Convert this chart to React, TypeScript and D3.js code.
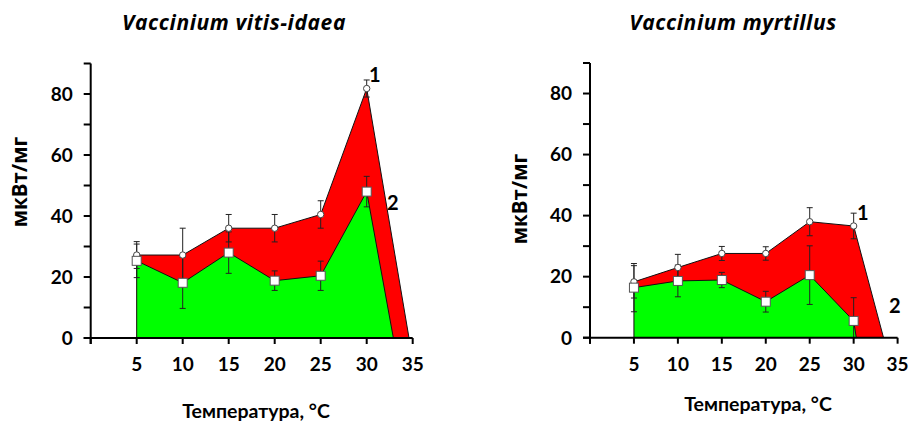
import React from "react";
import * as d3 from "d3";

// Temperatures where measurements were taken
const temps = [5, 10, 15, 20, 25, 30];

// Vaccinium vitis-idaea
const vitisTitle = "Vaccinium vitis-idaea";
const vitis1 = [27.2, 27.2, 36, 36, 40.5, 81.8];
const vitis1Err = [4.4, 8.8, 4.5, 4.5, 4.5, 2.8];
const vitis2 = [25.3, 18.1, 28, 18.8, 20.4, 48];
const vitis2Err = [5.5, 8.4, 6.8, 3.2, 4.8, 5];
const vitisZero = [34.6, 32.9]; // temperature where each series falls to zero

// Vaccinium myrtillus
const myrtTitle = "Vaccinium myrtillus";
const myrt1 = [18.3, 23, 27.6, 27.6, 38, 36.6];
const myrt1Err = [5.3, 4.3, 2.3, 2.2, 4.6, 4.2];
const myrt2 = [16.4, 18.6, 18.9, 11.8, 20.5, 5.5];
const myrt2Err = [7.9, 5.2, 2.5, 3.4, 9.6, 7.6];
const myrtZero = [33.4, 30.3];

const xTicks = [0, 5, 10, 15, 20, 25, 30, 35];
const xTickLabels = [5, 10, 15, 20, 25, 30, 35];
const yTicks = [0, 10, 20, 30, 40, 50, 60, 70, 80, 90];
const yTickLabels = [0, 20, 40, 60, 80];
const yLabel = "мкВт/мг";
const xLabel = "Температура, °C";
const seriesNames = ["1", "2"];

const FONT = "Lato, 'Open Sans', sans-serif";
const WIDE_FONT = "'Open Sans', Lato, sans-serif";

type PanelProps = {
  title: string;
  s1: number[];
  e1: number[];
  s2: number[];
  e2: number[];
  zero: number[];
  x0: number;
  x1: number;
  y0: number;
  y1: number;
  titleX: number;
  yLabelX: number;
  yLabelY: number;
  xLabelY: number;
  xLabelX: number;
  lab1: [number, number];
  lab2: [number, number];
};

function Panel(p: PanelProps) {
  const x = d3.scaleLinear().domain([0, 35]).range([p.x0, p.x1]);
  const y = d3.scaleLinear().domain([0, 90]).range([p.y0, p.y1]);

  const pts = (vals: number[], z: number) => {
    const arr: [number, number][] = temps.map((t, i) => [t, vals[i]]);
    arr.push([z, 0]);
    return arr;
  };
  const area = d3
    .area<[number, number]>()
    .x((d) => x(d[0]))
    .y0(y(0))
    .y1((d) => y(d[1]));
  const line = d3
    .line<[number, number]>()
    .x((d) => x(d[0]))
    .y((d) => y(d[1]));

  const p1 = pts(p.s1, p.zero[0]);
  const p2 = pts(p.s2, p.zero[1]);

  const errBars = (vals: number[], errs: number[], key: string) =>
    temps.map((t, i) => {
      const cx = x(t);
      const hi = y(vals[i] + errs[i]);
      const lo = y(Math.max(0, vals[i] - errs[i]));
      return (
        <g key={key + i} stroke="#222" strokeWidth={1}>
          <line x1={cx} x2={cx} y1={hi} y2={lo} />
          <line x1={cx - 3} x2={cx + 3} y1={hi} y2={hi} />
          <line x1={cx - 3} x2={cx + 3} y1={lo} y2={lo} />
        </g>
      );
    });

  return (
    <g>
      <text
        x={p.titleX}
        y={30}
        textAnchor="middle"
        fontFamily={WIDE_FONT}
        fontWeight="bold"
        fontStyle="italic"
        fontSize={21}
        letterSpacing={0.6}
      >
        {p.title}
      </text>

      <path d={area(p1) ?? ""} fill="#ff0000" />
      <path d={area(p2) ?? ""} fill="#00ff00" />
      <path d={line(p1) ?? ""} fill="none" stroke="#111" strokeWidth={1} />
      <path d={line(p2) ?? ""} fill="none" stroke="#111" strokeWidth={1} />
      <line x1={x(5)} x2={x(5)} y1={y(0)} y2={y(p.s2[0])} stroke="#111" strokeWidth={1} />

      {errBars(p.s1, p.e1, "a")}
      {errBars(p.s2, p.e2, "b")}

      {temps.map((t, i) => (
        <circle
          key={"m1" + i}
          cx={x(t)}
          cy={y(p.s1[i])}
          r={3.2}
          fill="#fff"
          stroke="#444"
          strokeWidth={1}
        />
      ))}
      {temps.map((t, i) => (
        <rect
          key={"m2" + i}
          x={x(t) - 4.5}
          y={y(p.s2[i]) - 4.5}
          width={9}
          height={9}
          fill="#fff"
          stroke="#555"
          strokeWidth={1}
        />
      ))}

      {/* axes */}
      <line x1={p.x0} x2={p.x0} y1={y(90)} y2={y(0) + 6} stroke="#000" strokeWidth={2} />
      <line x1={p.x0 - 7} x2={x(35)} y1={y(0)} y2={y(0)} stroke="#000" strokeWidth={2} />
      {yTicks.map((v) => (
        <line key={"yt" + v} x1={p.x0 - 7} x2={p.x0} y1={y(v)} y2={y(v)} stroke="#000" strokeWidth={2} />
      ))}
      {xTicks.map((v) => (
        <line key={"xt" + v} x1={x(v)} x2={x(v)} y1={y(0)} y2={y(0) + 6} stroke="#000" strokeWidth={2} />
      ))}
      {yTickLabels.map((v) => (
        <text
          key={"yl" + v}
          x={p.x0 - 18}
          y={y(v)}
          dy="0.36em"
          textAnchor="end"
          fontFamily={FONT}
          fontWeight="bold"
          fontSize={19}
        >
          {v}
        </text>
      ))}
      {xTickLabels.map((v) => (
        <text
          key={"xl" + v}
          x={x(v)}
          y={y(0) + 33}
          textAnchor="middle"
          fontFamily={FONT}
          fontWeight="bold"
          fontSize={19}
        >
          {v}
        </text>
      ))}
      <text
        transform={`translate(${p.yLabelX},${p.yLabelY}) rotate(-90)`}
        textAnchor="middle"
        dy="0.35em"
        fontFamily={WIDE_FONT}
        fontWeight="bold"
        fontSize={20.5}
      >
        {yLabel}
      </text>
      <text
        x={p.xLabelX}
        y={p.xLabelY}
        textAnchor="middle"
        fontFamily={FONT}
        fontWeight="bold"
        fontSize={19.5}
      >
        {xLabel}
      </text>
      <text x={p.lab1[0]} y={p.lab1[1]} fontFamily={FONT} fontWeight="bold" fontSize={20}>
        {seriesNames[0]}
      </text>
      <text x={p.lab2[0]} y={p.lab2[1]} fontFamily={FONT} fontWeight="bold" fontSize={20}>
        {seriesNames[1]}
      </text>
    </g>
  );
}

export default function App() {
  return (
    <svg
      width={910}
      height={424}
      style={{ position: "absolute", left: 0, top: 0, background: "#fff" }}
    >
      <rect width={910} height={424} fill="#fff" />
      <Panel
        title={vitisTitle}
        s1={vitis1}
        e1={vitis1Err}
        s2={vitis2}
        e2={vitis2Err}
        zero={vitisZero}
        x0={90.7}
        x1={412.7}
        y0={338}
        y1={63.5}
        titleX={234}
        yLabelX={20}
        yLabelY={182}
        xLabelX={256}
        xLabelY={418}
        lab1={[369, 82]}
        lab2={[387, 210]}
      />
      <Panel
        title={myrtTitle}
        s1={myrt1}
        e1={myrt1Err}
        s2={myrt2}
        e2={myrt2Err}
        zero={myrtZero}
        x0={590}
        x1={897.6}
        y0={337.7}
        y1={63}
        titleX={733}
        yLabelX={520}
        yLabelY={199}
        xLabelX={758}
        xLabelY={411}
        lab1={[857, 220]}
        lab2={[889, 313]}
      />
    </svg>
  );
}
